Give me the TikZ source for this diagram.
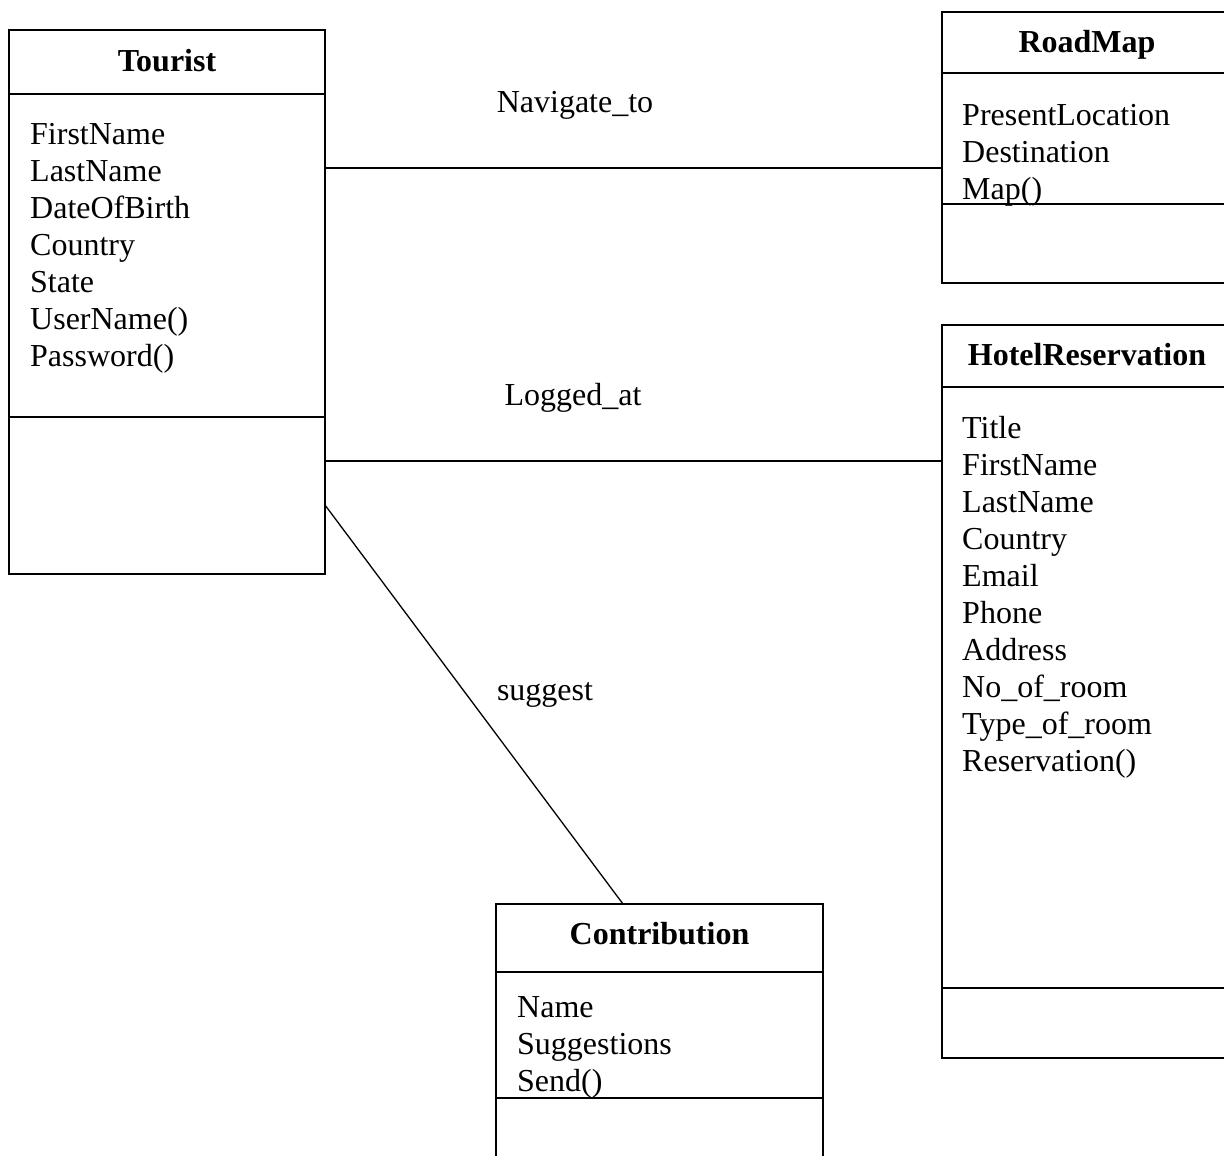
\documentclass[tikz,border=0pt]{standalone}
\usepackage{fontspec}
\setmainfont{Liberation Serif}
\usetikzlibrary{positioning}

\newcommand{\umlfont}{\fontsize{32}{37}\selectfont}

\tikzset{
  classbox/.style={draw,line width=1.5pt,anchor=north west,inner sep=0pt,outer sep=0pt},
  divider/.style={line width=1.5pt},
  ctitle/.style={font=\umlfont\bfseries,anchor=base,inner sep=0pt},
  attr/.style={font=\umlfont,anchor=base west,inner sep=0pt},
  lbl/.style={font=\umlfont,anchor=base,inner sep=0pt},
  assoc/.style={line width=1.3pt},
}

\begin{document}
\begin{tikzpicture}[x=1pt,y=-1pt]
  \useasboundingbox (0,0) rectangle (1224,1156);
  \clip (0,0) rectangle (1224,1156);
  %
  % Tourist
  \node[classbox,minimum width=316pt,minimum height=544pt] (tourist) at (9,30) {};
  \draw[divider] (tourist.west |- 0,94) -- (tourist.east |- 0,94);
  \draw[divider] (tourist.west |- 0,417) -- (tourist.east |- 0,417);
  \node[ctitle] (tourist-t) at (tourist.north |- 0,71) {Tourist};
  \foreach \a [count=\i] in {FirstName,LastName,DateOfBirth,Country,State,UserName(),Password()}
    \node[attr] (tourist-\i) at (30,{144+37*(\i-1)}) {\a};
  %
  % RoadMap
  \node[classbox,minimum width=290pt,minimum height=271pt] (roadmap) at (942,12) {};
  \draw[divider] (roadmap.west |- 0,73) -- (roadmap.east |- 0,73);
  \draw[divider] (roadmap.west |- 0,204) -- (roadmap.east |- 0,204);
  \node[ctitle] (roadmap-t) at (roadmap.north |- 0,53) {RoadMap};
  \foreach \a [count=\i] in {PresentLocation,Destination,Map()}
    \node[attr] (roadmap-\i) at (962,{125+37*(\i-1)}) {\a};
  %
  % HotelReservation
  \node[classbox,minimum width=290pt,minimum height=733pt] (hotel) at (942,325) {};
  \draw[divider] (hotel.west |- 0,387) -- (hotel.east |- 0,387);
  \draw[divider] (hotel.west |- 0,988) -- (hotel.east |- 0,988);
  \node[ctitle] (hotel-t) at (hotel.north |- 0,365) {HotelReservation};
  \foreach \a [count=\i] in {Title,FirstName,LastName,Country,Email,Phone,Address,No\_of\_room,Type\_of\_room,Reservation()}
    \node[attr] (hotel-\i) at (962,{438+37*(\i-1)}) {\a};
  %
  % Contribution
  \node[classbox,minimum width=327pt,minimum height=300pt] (contrib) at (496,904) {};
  \draw[divider] (contrib.west |- 0,972) -- (contrib.east |- 0,972);
  \draw[divider] (contrib.west |- 0,1098) -- (contrib.east |- 0,1098);
  \node[ctitle] (contrib-t) at (contrib.north |- 0,944) {Contribution};
  \foreach \a [count=\i] in {Name,Suggestions,Send()}
    \node[attr] (contrib-\i) at (517,{1017+37*(\i-1)}) {\a};
  %
  % associations
  \draw[assoc] (tourist.east |- 0,168) -- (roadmap.west |- 0,168);
  \draw[assoc] (tourist.east |- 0,461) -- (hotel.west |- 0,461);
  \draw[assoc] (tourist.east |- 0,505) -- (contrib.north -| 623,0);
  \node[lbl] (nav-l) at (575,112) {Navigate\_to};
  \node[lbl] (log-l) at (573,405) {Logged\_at};
  \node[lbl] (sug-l) at (545,700) {suggest};
\end{tikzpicture}
\end{document}
